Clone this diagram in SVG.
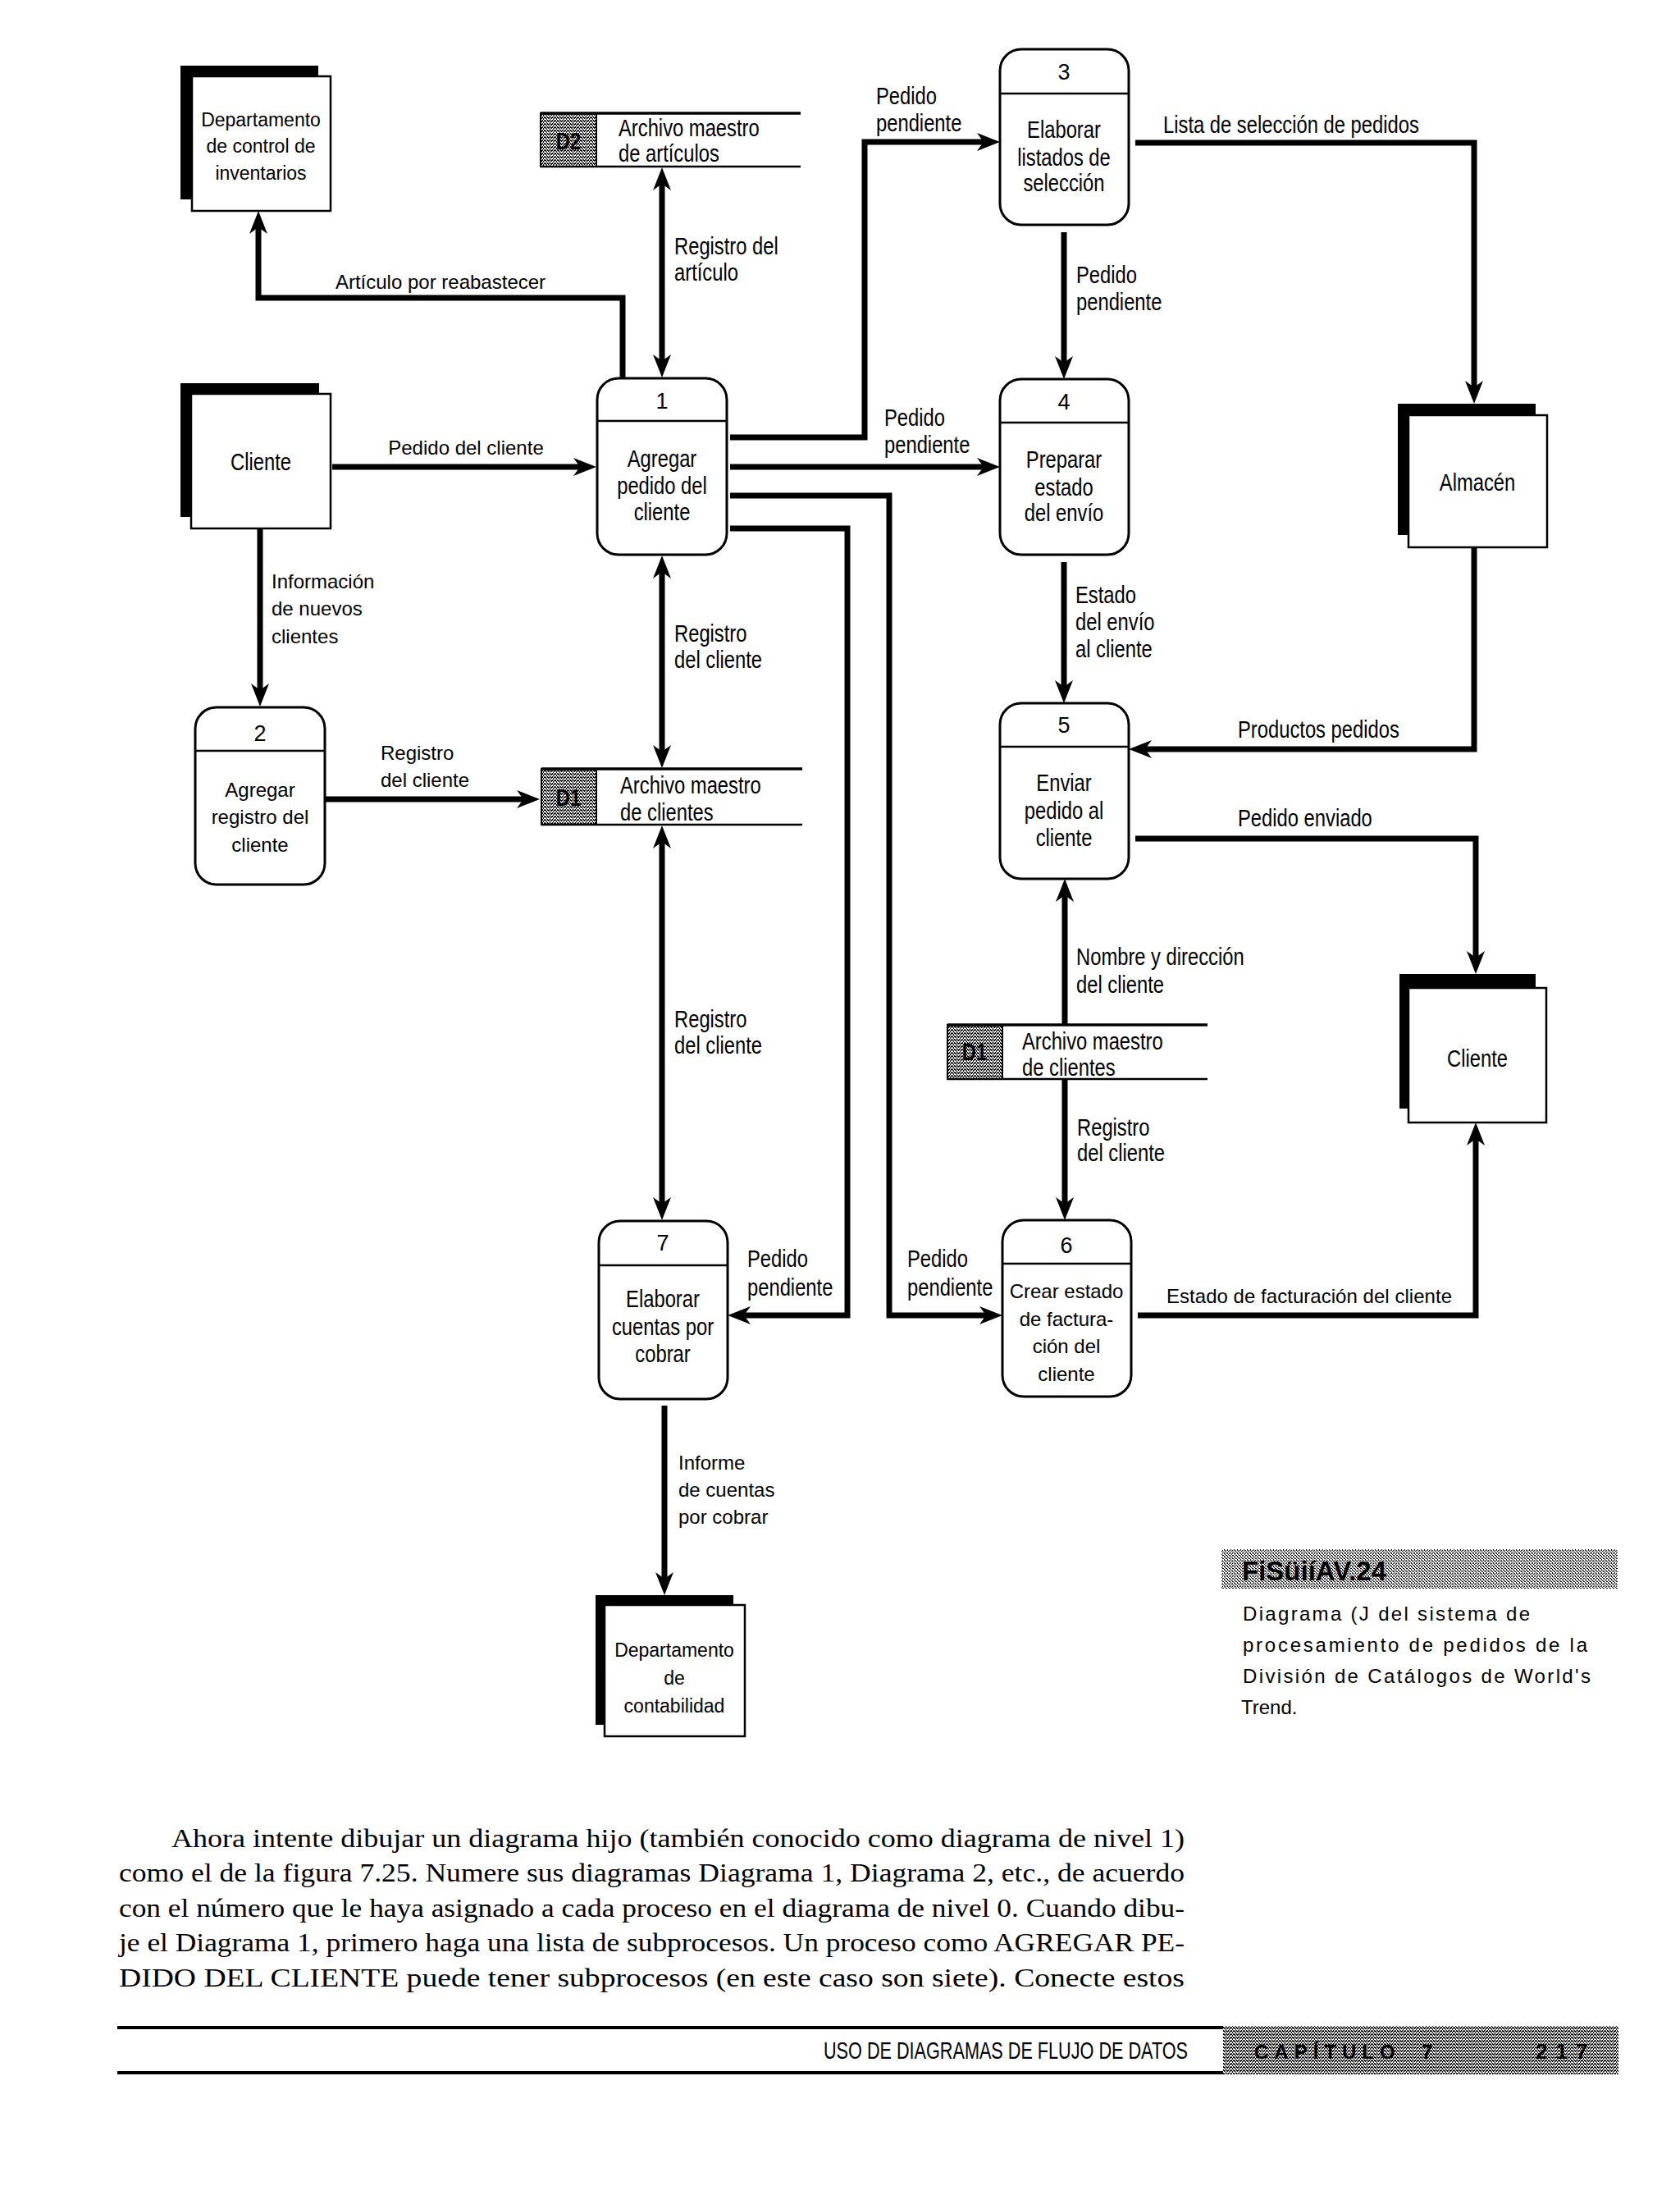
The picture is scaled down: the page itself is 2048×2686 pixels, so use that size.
<svg xmlns="http://www.w3.org/2000/svg" width="2048" height="2686" viewBox="0 0 2048 2686">
<defs>
<style>
.r{font-family:"Liberation Sans",Arial,sans-serif;font-size:24px;fill:#000}
.rm{font-family:"Liberation Sans",Arial,sans-serif;font-size:23px;fill:#000;text-anchor:middle}
.n{font-family:"Liberation Sans",Arial,sans-serif;font-size:29px;fill:#000}
.nm{font-family:"Liberation Sans",Arial,sans-serif;font-size:29px;fill:#000;text-anchor:middle}
.num{font-family:"Liberation Sans",Arial,sans-serif;font-size:27px;fill:#000;text-anchor:middle}
.proc{fill:#fff;stroke:#000;stroke-width:3}
.div{stroke:#000;stroke-width:2.5}
.sh{fill:#000}
.fr{fill:#fff;stroke:#000;stroke-width:2.5}
.gray{fill:url(#dots);stroke:#000;stroke-width:2}
.sl{stroke:#000;stroke-width:3.5;fill:none}
.flow{fill:none;stroke:#000;stroke-width:7;stroke-linejoin:miter}
.one{marker-end:url(#ah)}
.two{marker-start:url(#ah);marker-end:url(#ah)}
.par{font-family:"Liberation Serif","Times New Roman",serif;font-size:32px;fill:#000}
</style>
<pattern id="dots" width="4" height="4" patternUnits="userSpaceOnUse">
<rect width="4" height="4" fill="#fff"/>
<rect x="0" y="0" width="1" height="1" fill="#000"/>
<rect x="2" y="0" width="1" height="2" fill="#000"/>
<rect x="1" y="2" width="1" height="1" fill="#000"/>
<rect x="3" y="2" width="1" height="2" fill="#000"/>
<rect x="0" y="3" width="2" height="1" fill="#000"/>
</pattern>
<pattern id="lite" width="4" height="4" patternUnits="userSpaceOnUse">
<rect width="4" height="4" fill="#fff"/>
<rect x="0" y="0" width="1" height="1" fill="#000"/>
<rect x="2" y="1" width="1" height="1" fill="#000"/>
<rect x="1" y="2" width="1" height="1" fill="#000"/>
<rect x="3" y="3" width="1" height="1" fill="#000"/>
<rect x="2" y="3" width="1" height="1" fill="#000"/>
<rect x="0" y="1" width="1" height="1" fill="#000"/>
</pattern>
<marker id="ah" viewBox="0 0 28 22" refX="18" refY="11" markerWidth="28" markerHeight="22" markerUnits="userSpaceOnUse" orient="auto-start-reverse">
<path d="M0,0 L28,11 L0,22 L8,11 Z" fill="#000"/>
</marker>
</defs>
<rect width="2048" height="2686" fill="#fff"/>

<g id="connectors">
<path class="flow one" d="M405,569 H717"/>
<path class="flow one" d="M317,644 V851"/>
<path class="flow one" d="M396,974 H648"/>
<path class="flow one" d="M759,461 V363 H315 V267"/>
<path class="flow two" d="M807,214 V450"/>
<path class="flow two" d="M807,687 V926"/>
<path class="flow two" d="M807,1016 V1477"/>
<path class="flow one" d="M890,533 H1054 V173 H1209"/>
<path class="flow one" d="M890,569 H1209"/>
<path class="flow one" d="M890,604 H1084 V1603 H1212"/>
<path class="flow one" d="M890,644 H1033 V1603 H897"/>
<path class="flow one" d="M1384,174 H1797 V482"/>
<path class="flow one" d="M1297,283 V452"/>
<path class="flow one" d="M1297,685 V847"/>
<path class="flow one" d="M1797,667 V913 H1386"/>
<path class="flow one" d="M1384,1022 H1799 V1177"/>
<path class="flow one" d="M1298,1249 V1081"/>
<path class="flow one" d="M1298,1315 V1477"/>
<path class="flow one" d="M1387,1603 H1799 V1378"/>
<path class="flow one" d="M810,1713 V1934"/>

<text class="r" x="537" y="352" text-anchor="middle">Artículo  por  reabastecer</text>
<text class="n" transform="translate(822,310) scale(.82,1)">Registro del</text>
<text class="n" transform="translate(822,342) scale(.82,1)">artículo</text>
<text class="n" transform="translate(1068,127) scale(.82,1)">Pedido</text>
<text class="n" transform="translate(1068,160) scale(.82,1)">pendiente</text>
<text class="n" transform="translate(1418,162) scale(.82,1)">Lista de selección de pedidos</text>
<text class="n" transform="translate(1312,345) scale(.82,1)">Pedido</text>
<text class="n" transform="translate(1312,378) scale(.82,1)">pendiente</text>
<text class="r" x="568" y="554" text-anchor="middle">Pedido del  cliente</text>
<text class="n" transform="translate(1078,519) scale(.82,1)">Pedido</text>
<text class="n" transform="translate(1078,552) scale(.82,1)">pendiente</text>
<text class="r" x="331" y="717">Información</text>
<text class="r" x="331" y="750">de nuevos</text>
<text class="r" x="331" y="784">clientes</text>
<text class="n" transform="translate(822,782) scale(.82,1)">Registro</text>
<text class="n" transform="translate(822,814) scale(.82,1)">del cliente</text>
<text class="n" transform="translate(1311,735) scale(.82,1)">Estado</text>
<text class="n" transform="translate(1311,768) scale(.82,1)">del envío</text>
<text class="n" transform="translate(1311,801) scale(.82,1)">al cliente</text>
<text class="n" transform="translate(1509,899) scale(.82,1)">Productos pedidos</text>
<text class="n" transform="translate(1509,1007) scale(.82,1)">Pedido enviado</text>
<text class="r" x="464" y="926">Registro</text>
<text class="r" x="464" y="959">del  cliente</text>
<text class="n" transform="translate(822,1252) scale(.82,1)">Registro</text>
<text class="n" transform="translate(822,1284) scale(.82,1)">del cliente</text>
<text class="n" transform="translate(1312,1176) scale(.82,1)">Nombre y dirección</text>
<text class="n" transform="translate(1312,1210) scale(.82,1)">del cliente</text>
<text class="n" transform="translate(1313,1384) scale(.82,1)">Registro</text>
<text class="n" transform="translate(1313,1415) scale(.82,1)">del cliente</text>
<text class="n" transform="translate(911,1544) scale(.82,1)">Pedido</text>
<text class="n" transform="translate(911,1579) scale(.82,1)">pendiente</text>
<text class="n" transform="translate(1106,1544) scale(.82,1)">Pedido</text>
<text class="n" transform="translate(1106,1579) scale(.82,1)">pendiente</text>
<text class="r" x="1422" y="1588" textLength="348">Estado de facturación del cliente</text>
<text class="r" x="827" y="1791">Informe</text>
<text class="r" x="827" y="1824">de cuentas</text>
<text class="r" x="827" y="1857">por  cobrar</text>
</g>

<g id="ent-dept-inventarios">
<rect class="sh" x="220" y="80" width="168" height="163"/>
<rect class="fr" x="234" y="93" width="169" height="164"/>
<text class="rm" x="318" y="154">Departamento</text>
<text class="rm" x="318" y="186">de control de</text>
<text class="rm" x="318" y="219">inventarios</text>
</g>

<g id="ent-cliente-1">
<rect class="sh" x="220" y="467" width="169" height="163"/>
<rect class="fr" x="233" y="480" width="170" height="164"/>
<text class="nm" transform="translate(318,573) scale(.82,1)">Cliente</text>
</g>

<g id="ent-almacen">
<rect class="sh" x="1704" y="492" width="168" height="160"/>
<rect class="fr" x="1717" y="506" width="169" height="161"/>
<text class="nm" transform="translate(1801,598) scale(.82,1)">Almacén</text>
</g>

<g id="ent-cliente-2">
<rect class="sh" x="1706" y="1187" width="166" height="164"/>
<rect class="fr" x="1717" y="1204" width="168" height="164"/>
<text class="nm" transform="translate(1801,1300) scale(.82,1)">Cliente</text>
</g>

<g id="ent-dept-contabilidad">
<rect class="sh" x="726" y="1944" width="168" height="158"/>
<rect class="fr" x="737" y="1956" width="171" height="160"/>
<text class="rm" x="822" y="2019">Departamento</text>
<text class="rm" x="822" y="2053">de</text>
<text class="rm" x="822" y="2087">contabilidad</text>
</g>

<g id="store-d2">
<rect class="gray" x="659" y="138" width="68" height="65"/>
<line class="sl" x1="659" y1="138" x2="976" y2="138"/>
<line class="div" x1="659" y1="203" x2="976" y2="203"/>
<text class="nm" transform="translate(693,182) scale(.82,1)" font-weight="bold">D2</text>
<text class="n" transform="translate(754,166) scale(.82,1)">Archivo maestro</text>
<text class="n" transform="translate(754,197) scale(.82,1)">de artículos</text>
</g>

<g id="store-d1">
<rect class="gray" x="660" y="937" width="67" height="68"/>
<line class="sl" x1="660" y1="937" x2="978" y2="937"/>
<line class="div" x1="660" y1="1005" x2="978" y2="1005"/>
<text class="nm" transform="translate(693,982) scale(.82,1)" font-weight="bold">D1</text>
<text class="n" transform="translate(756,967) scale(.82,1)">Archivo maestro</text>
<text class="n" transform="translate(756,1000) scale(.82,1)">de clientes</text>
</g>

<g id="store-d1b">
<rect class="gray" x="1155" y="1249" width="67" height="66"/>
<line class="sl" x1="1155" y1="1249" x2="1472" y2="1249"/>
<line class="div" x1="1155" y1="1315" x2="1472" y2="1315"/>
<text class="nm" transform="translate(1188,1292) scale(.82,1)" font-weight="bold">D1</text>
<text class="n" transform="translate(1246,1279) scale(.82,1)">Archivo maestro</text>
<text class="n" transform="translate(1246,1311) scale(.82,1)">de clientes</text>
</g>

<g id="proc-1">
<rect class="proc" x="728" y="461" width="158" height="215" rx="26"/>
<line class="div" x1="728" y1="513" x2="886" y2="513"/>
<text class="num" x="807" y="498">1</text>
<text class="nm" transform="translate(807,569) scale(.82,1)">Agregar</text>
<text class="nm" transform="translate(807,602) scale(.82,1)">pedido del</text>
<text class="nm" transform="translate(807,634) scale(.82,1)">cliente</text>
</g>

<g id="proc-2">
<rect class="proc" x="238" y="862" width="158" height="216" rx="26"/>
<line class="div" x1="238" y1="915" x2="396" y2="915"/>
<text class="num" x="317" y="903">2</text>
<text class="r" x="317" y="971" text-anchor="middle">Agregar</text>
<text class="r" x="317" y="1004" text-anchor="middle">registro  del</text>
<text class="r" x="317" y="1038" text-anchor="middle">cliente</text>
</g>

<g id="proc-3">
<rect class="proc" x="1219" y="60" width="157" height="214" rx="26"/>
<line class="div" x1="1219" y1="114" x2="1376" y2="114"/>
<text class="num" x="1297" y="97">3</text>
<text class="nm" transform="translate(1297,168) scale(.82,1)">Elaborar</text>
<text class="nm" transform="translate(1297,202) scale(.82,1)">listados de</text>
<text class="nm" transform="translate(1297,233) scale(.82,1)">selección</text>
</g>

<g id="proc-4">
<rect class="proc" x="1219" y="462" width="157" height="214" rx="26"/>
<line class="div" x1="1219" y1="515" x2="1376" y2="515"/>
<text class="num" x="1297" y="499">4</text>
<text class="nm" transform="translate(1297,570) scale(.82,1)">Preparar</text>
<text class="nm" transform="translate(1297,604) scale(.82,1)">estado</text>
<text class="nm" transform="translate(1297,635) scale(.82,1)">del envío</text>
</g>

<g id="proc-5">
<rect class="proc" x="1219" y="857" width="157" height="214" rx="26"/>
<line class="div" x1="1219" y1="910" x2="1376" y2="910"/>
<text class="num" x="1297" y="893">5</text>
<text class="nm" transform="translate(1297,964) scale(.82,1)">Enviar</text>
<text class="nm" transform="translate(1297,998) scale(.82,1)">pedido al</text>
<text class="nm" transform="translate(1297,1031) scale(.82,1)">cliente</text>
</g>

<g id="proc-6">
<rect class="proc" x="1222" y="1487" width="157" height="215" rx="26"/>
<line class="div" x1="1222" y1="1540" x2="1379" y2="1540"/>
<text class="num" x="1300" y="1527">6</text>
<text class="r" x="1300" y="1582" text-anchor="middle">Crear estado</text>
<text class="r" x="1300" y="1616" text-anchor="middle">de factura-</text>
<text class="r" x="1300" y="1649" text-anchor="middle">ción del</text>
<text class="r" x="1300" y="1683" text-anchor="middle">cliente</text>
</g>

<g id="proc-7">
<rect class="proc" x="730" y="1488" width="157" height="217" rx="26"/>
<line class="div" x1="730" y1="1542" x2="887" y2="1542"/>
<text class="num" x="808" y="1524">7</text>
<text class="nm" transform="translate(808,1593) scale(.82,1)">Elaborar</text>
<text class="nm" transform="translate(808,1627) scale(.82,1)">cuentas por</text>
<text class="nm" transform="translate(808,1660) scale(.82,1)">cobrar</text>
</g>

<g id="caption">
<rect x="1489" y="1888" width="483" height="48" fill="url(#lite)"/>
<text x="1514" y="1926" font-family="Liberation Sans,Arial,sans-serif" font-weight="bold" font-size="33">FiSüiíAV.24</text>
<text class="r" x="1515" y="1975" font-size="27" textLength="350" lengthAdjust="spacing">Diagrama (J del sistema de</text>
<text class="r" x="1515" y="2013" font-size="27" textLength="420" lengthAdjust="spacing">procesamiento de pedidos de la</text>
<text class="r" x="1515" y="2051" font-size="27" textLength="424" lengthAdjust="spacing">División de Catálogos de World's</text>
<text class="r" x="1513" y="2089" font-size="27">Trend.</text>
</g>

<g id="paragraph">
<text class="par" x="209" y="2251" textLength="1235" lengthAdjust="spacingAndGlyphs">Ahora intente dibujar un diagrama hijo (también conocido como diagrama de nivel 1)</text>
<text class="par" x="145" y="2293" textLength="1299" lengthAdjust="spacingAndGlyphs">como el de la figura 7.25. Numere sus diagramas Diagrama 1, Diagrama 2, etc., de acuerdo</text>
<text class="par" x="145" y="2336" textLength="1299" lengthAdjust="spacingAndGlyphs">con el número que le haya asignado a cada proceso en el diagrama de nivel 0. Cuando dibu-</text>
<text class="par" x="145" y="2378" textLength="1299" lengthAdjust="spacingAndGlyphs">je el Diagrama 1, primero haga una lista de subprocesos. Un proceso como AGREGAR PE-</text>
<text class="par" x="145" y="2421" textLength="1299" lengthAdjust="spacingAndGlyphs">DIDO DEL CLIENTE puede tener subprocesos (en este caso son siete). Conecte estos</text>
</g>

<g id="footer">
<line x1="143" y1="2471" x2="1491" y2="2471" stroke="#000" stroke-width="4"/>
<line x1="143" y1="2526" x2="1491" y2="2526" stroke="#000" stroke-width="4"/>
<rect x="1491" y="2469" width="482" height="59" fill="url(#dots)"/>
<text class="n" x="1004" y="2509" font-size="26" textLength="444" lengthAdjust="spacingAndGlyphs">USO DE DIAGRAMAS DE FLUJO DE DATOS</text>
<text x="1529" y="2509" font-family="Liberation Sans,Arial,sans-serif" font-weight="bold" font-size="24" letter-spacing="7">CAPÍTULO</text>
<text x="1733" y="2509" font-family="Liberation Sans,Arial,sans-serif" font-weight="bold" font-size="24">7</text>
<text x="1872" y="2509" font-family="Liberation Sans,Arial,sans-serif" font-weight="bold" font-size="26" letter-spacing="10">217</text>
</g>
</svg>
